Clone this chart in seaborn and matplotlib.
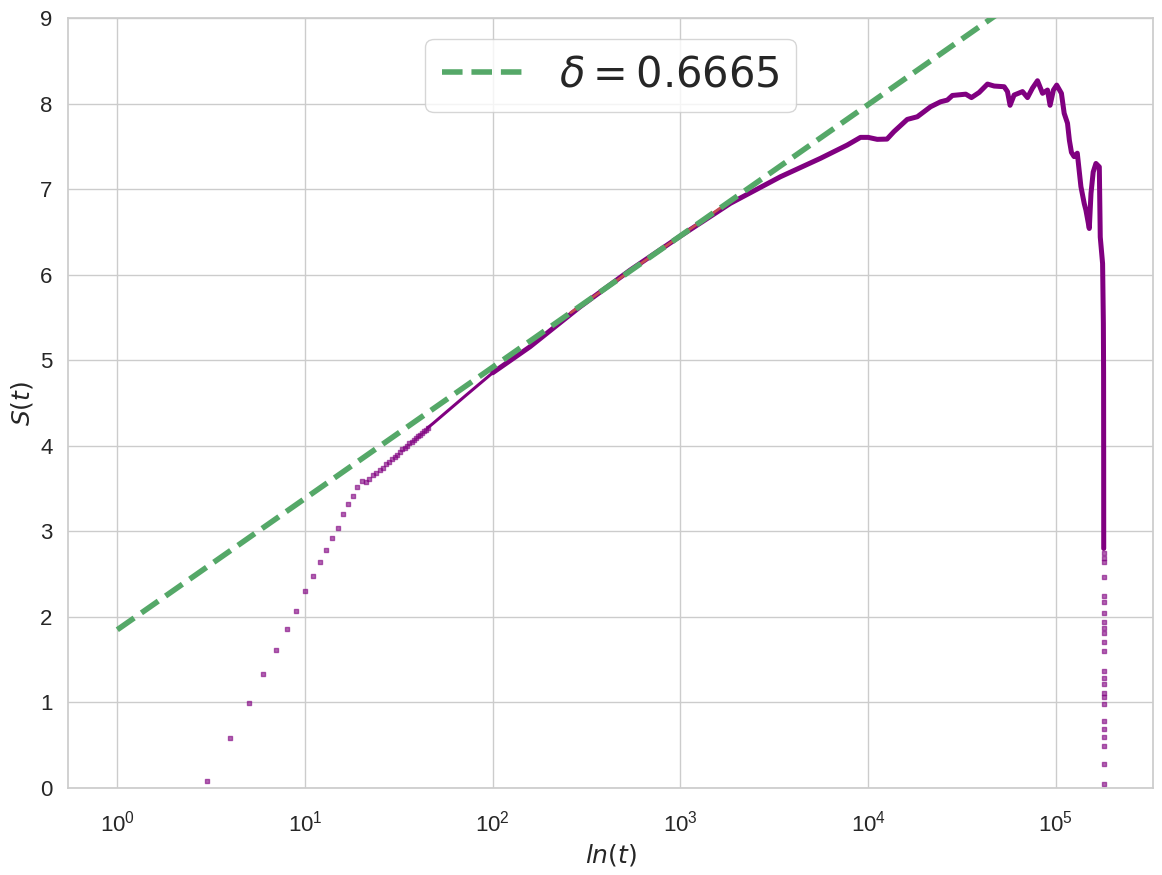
import matplotlib
matplotlib.use('Agg')
import matplotlib.pyplot as plt
import seaborn as sns
import numpy as np

# pontos iniciais (esparsos)
t_inicio = [3, 4, 5, 6, 7, 8, 9, 10, 11, 12, 13, 14, 15, 16, 17, 18, 19, 20,
            21, 22, 23, 24, 25, 26, 27, 28, 29, 30, 31, 32, 33, 34, 35, 36,
            37, 38, 39, 40, 41, 42, 43, 44, 45]
s_inicio = [0.08, 0.59, 0.99, 1.33, 1.61, 1.855, 2.065, 2.30, 2.474, 2.638,
            2.778, 2.918, 3.035, 3.199, 3.316, 3.41, 3.514, 3.585, 3.573,
            3.608, 3.655, 3.678, 3.713, 3.737, 3.783, 3.807, 3.842, 3.865,
            3.889, 3.924, 3.959, 3.98, 4.0, 4.03, 4.05, 4.07, 4.09, 4.11,
            4.13, 4.15, 4.17, 4.19, 4.21]

# parte densa da curva
t_curva = [45, 48, 57, 72, 100, 158, 292, 540, 1000, 1845, 3410, 5570,
           7730, 9100, 10000, 11170, 12600, 13700, 16150, 18270, 21500, 24300,
           26400, 28100, 33100, 35500, 39000, 43200, 46900, 53000, 55200,
           57000, 59900, 66400, 70600, 75000, 79800, 84900, 90200, 93100,
           97000, 101000, 107000, 110700, 115300, 118000, 121000, 125000,
           130000, 135900, 141600, 144500, 150600, 153800, 158000, 163400,
           170300, 172300, 177300, 179000, 179500, 179700, 179800]
s_curva = [4.21, 4.26, 4.40, 4.59, 4.854, 5.158, 5.625, 6.054, 6.452,
           6.834, 7.145, 7.36, 7.515, 7.605, 7.605, 7.582, 7.585, 7.671,
           7.815, 7.846, 7.963, 8.021, 8.041, 8.095, 8.11, 8.07, 8.13, 8.228,
           8.205, 8.197, 8.14, 7.98, 8.10, 8.14, 8.07, 8.18, 8.267, 8.12,
           8.158, 7.98, 8.158, 8.216, 8.12, 7.886, 7.77, 7.57, 7.43, 7.38,
           7.42, 7.03, 6.83, 6.755, 6.54, 6.95, 7.2, 7.30, 7.26, 6.44, 6.13,
           5.43, 4.85, 3.8, 2.8]

# queda final (pontos esparsos)
t_queda = [179800] * 24
s_queda = [2.743, 2.684, 2.638, 2.47, 2.244, 2.178, 2.042, 1.936, 1.866,
           1.815, 1.702, 1.602, 1.365, 1.287, 1.215, 1.105, 1.061, 0.978,
           0.785, 0.685, 0.597, 0.497, 0.276, 0.05]

# ajuste S = c + delta*ln(t)
delta = 0.6665
intercepto = 1.85
t_max = 179800
faixa_ajuste = (260, 1630)

sns.set_theme(style='whitegrid')
plt.rcParams['font.family'] = ['Liberation Sans', 'DejaVu Sans']

fig, ax = plt.subplots(figsize=(11.62, 8.75), dpi=100)
fig.subplots_adjust(left=0.0585, right=0.9923, top=0.9794, bottom=0.0994)
ax.set_xscale('log')

roxo = 'purple'
t_curva = np.array(t_curva)
s_curva = np.array(s_curva)
inicio = t_curva <= 100
resto = t_curva >= 100
sns.lineplot(x=t_curva[inicio], y=s_curva[inicio], ax=ax, color=roxo, lw=2.2,
             sort=False, estimator=None)
sns.lineplot(x=t_curva[resto], y=s_curva[resto], ax=ax, color=roxo, lw=3.6,
             sort=False, estimator=None)
ax.scatter(t_inicio, s_inicio, marker='s', s=6, color=roxo, alpha=0.6)
ax.scatter(t_queda, s_queda, marker='s', s=6, color=roxo, alpha=0.6)

# reta do ajuste
t_fit = np.logspace(0, np.log10(t_max), 300)
ax.plot(t_fit, intercepto + delta * np.log(t_fit), color='#55A868', lw=4,
        ls='--', label=rf'$\delta = {delta}$', zorder=4)
t_red = np.logspace(np.log10(faixa_ajuste[0]), np.log10(faixa_ajuste[1]), 50)
ax.plot(t_red, intercepto + delta * np.log(t_red), color='#C44E52', lw=2,
        zorder=3)

ax.set_ylim(0, 9)
ax.set_xlabel('$ln(t)$', fontsize=18)
ax.set_ylabel('$S(t)$', fontsize=18)
ax.tick_params(labelsize=16)
ax.tick_params(axis='x', pad=10)
ax.tick_params(axis='y', pad=5)
ax.legend(loc='upper center', fontsize=30)

plt.savefig('out.png', dpi=100)
plt.close()
